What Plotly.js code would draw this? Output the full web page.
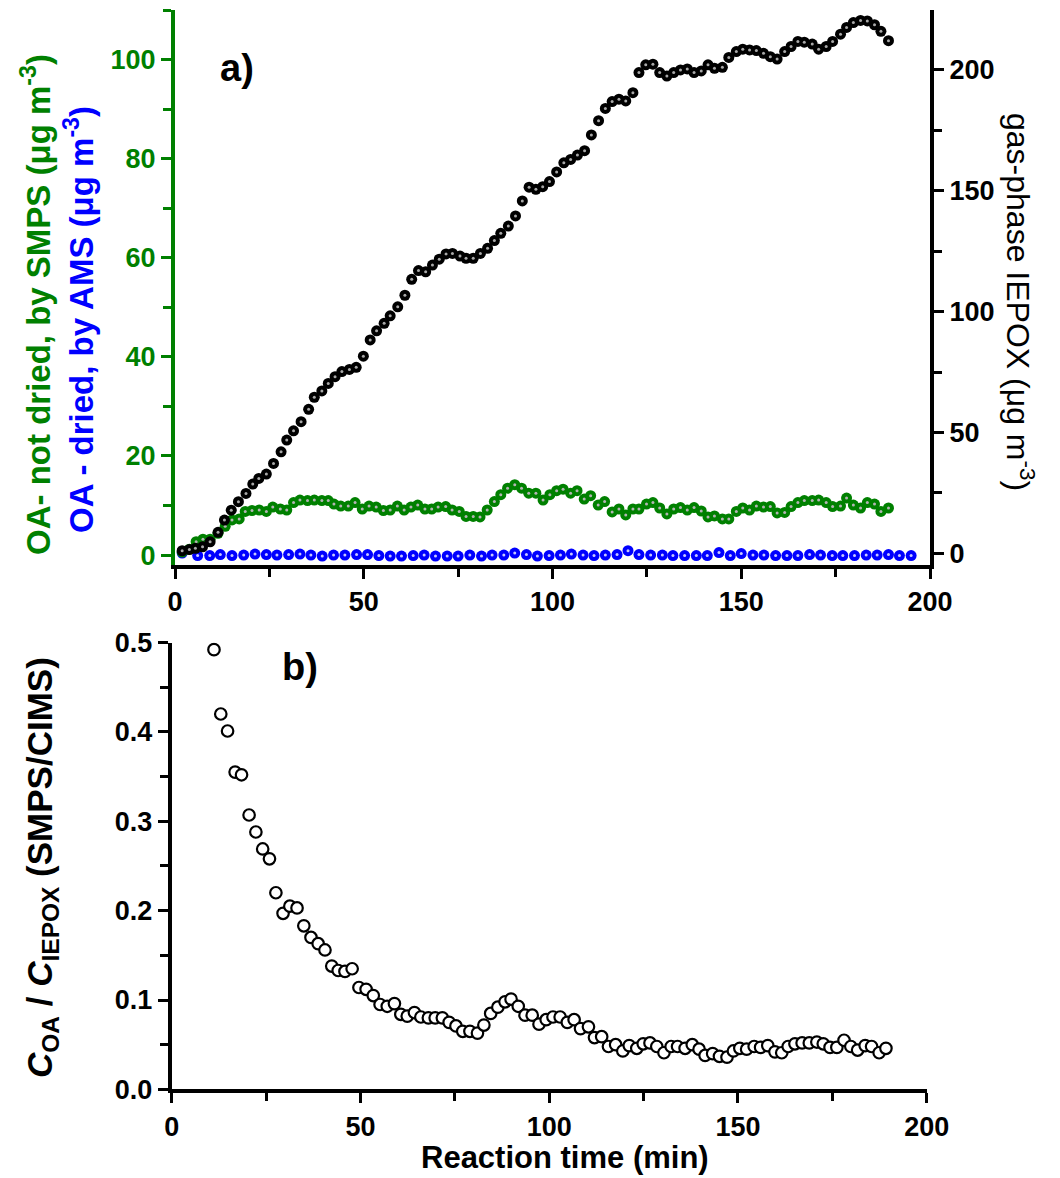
<!DOCTYPE html>
<html><head><meta charset="utf-8">
<script src="https://cdn.plot.ly/plotly-3.0.1.min.js"></script>
<style>html,body{margin:0;padding:0;background:#fff;} #chart{width:1060px;height:1178px;}</style>
</head><body><div id="chart"></div>
<script>
// ---- Panel a: gas-phase IEPOX (right axis, µg m-3)
const iepoxTime = [1.9,3.8,5.4,7.3,9.3,11.4,13.1,14.9,16.8,18.8,20.6,22.2,24.2,26.1,28.1,29.6,31.4,33.4,35.4,36.9,38.9,40.6,42.4,44.2,46.2,48,49.9,51.7,53.4,55.4,57,59,60.9,62.7,64.5,66.4,68.2,70,71.8,73.5,75.5,77.1,79,80.9,82.8,84.6,86.3,88.3,90.2,92,93.8,95.6,97.4,99.2,101.1,103,104.8,106.6,108.5,110.3,112.2,114,115.8,117.6,119.4,121.3,122.9,124.7,126.6,128.4,130.3,132.1,133.9,135.7,137.5,139.4,141.2,142.9,145,146.7,148.7,150.4,152.2,154,155.9,157.7,159.5,161.5,163.2,165,166.7,168.8,170.5,172.5,174.2,176.3,177.9,179.7,181.6,183.4,185.3,187,189];
const iepoxConc = [1.1,1.6,2.1,2.7,4.8,8.7,13.8,17.9,21.4,24.8,28.7,31,32.8,37.2,42,46.9,50.7,54.5,59.6,64.6,67.2,70.3,73.1,75.2,76.1,77,81.6,88.3,92.1,95.2,98.3,102,106.8,113.4,117,116.5,119.3,121.7,123.9,124.1,123,122.1,122.1,124.1,126.2,129.4,132.4,135.4,139.6,145.8,151.5,150.6,151.7,153.8,157.8,161.6,163,164.8,166.6,173.1,179,184.1,186.9,187.9,187.2,190.6,198.9,202.1,202.4,198.9,197.5,198.9,200,200.4,198.9,199.6,202.1,200.7,201.1,205.2,207.6,208.6,208.3,208,206.9,205.5,204.5,207.6,209.7,211.8,211.5,210.7,208.6,209.7,211.8,214.8,217.6,219.6,220.5,220.3,218.7,216,212.1];

// ---- Panel a: OA not dried, by SMPS (left axis)
const smpsTime = [1.9,3.8,5.6,7.4,9.3,11.4,13.3,15.1,17,18.6,20.4,22.3,24.2,25.9,27.9,29.6,31.4,33.1,35.1,36.9,38.9,40.6,42.1,43.9,45.9,47.7,49.6,51.4,53.3,55.2,57,58.9,60.7,62.5,64.3,66.2,68,69.7,71.7,73.4,75.3,77.1,79,80.8,82.7,84.6,86.3,88.1,90,91.8,93.7,95.6,97.5,99.3,101.1,102.8,104.8,106.5,108.4,110.1,112.1,113.8,115.8,117.6,119.4,121.3,122.9,124.9,126.6,128.4,130.3,132.1,133.9,135.7,137.5,139.4,141.2,142.9,145,146.7,148.7,150.4,152.2,154,155.9,157.7,159.5,161.5,163.2,165,166.7,168.8,170.5,172.5,174.2,176.3,177.9,179.7,181.6,183.4,185.3,187,189];
const smpsOA = [0.6,1.2,2.7,3.2,3.2,4.4,5.8,7.1,7.3,8.8,9,9.1,8.8,9.7,9.3,9.1,10.6,11.1,11,11.1,11,11,10.3,9.9,9.9,10.6,9.3,9.9,9.7,9,9.1,9.9,9.1,9.7,10.1,9.3,9.3,9.7,9.8,9.1,8.8,7.8,7.8,7.7,9.1,10.8,12.2,13.5,14.2,13.5,12.5,12.5,11.1,12.2,13,13.3,12.5,13,11.3,12,10.1,10.8,8.7,9.3,8.1,9.3,9.3,10.3,10.6,9.5,8.3,9.3,9.6,9.1,9.6,8.9,7.7,7.9,7.3,7.3,8.8,9.5,9.1,9.9,9.7,9.8,8.5,8.6,9.8,10.6,11,11,11.1,10.6,9.8,9.9,11.5,10.1,9.5,10.6,10.3,8.8,9.5];

// ---- Panel a: OA dried, by AMS (left axis)
const amsTime = [1.9,6,9.2,12,15.1,18.2,21.2,24.2,27,30.1,33.1,36,39,42,45,48.1,51,54,57,60,63.1,66,69,72.1,75,78.1,81.2,84,87.1,90,93.1,96,99.1,102.1,105,108.1,111,114,117.1,120,122.9,126,129.1,131.9,135,138.1,141,144.1,147.1,150,153.1,156,159.1,162.1,165,168.1,171,174.1,176.9,180,183.1,186,189,191.9,195];
const amsOA = [0.4,-0.1,-0.1,0.1,-0.1,0.0,0.2,0.1,0.0,0.1,0.2,0.0,-0.2,0.0,0.0,0.1,0.1,-0.1,-0.2,-0.2,-0.1,0.0,-0.2,-0.2,-0.2,0.0,-0.2,0.0,0.0,0.4,0.1,-0.2,-0.1,0.0,0.2,0.0,-0.1,0.0,0.1,0.9,0.1,0.0,0.0,-0.1,-0.1,-0.1,-0.1,0.5,-0.1,0.3,0.0,0.0,-0.1,-0.1,-0.1,0.1,0.0,-0.1,-0.1,-0.1,0.0,0.0,0.1,-0.1,-0.1];

// ---- Panel b: C_OA / C_IEPOX
const ratioTime = [11.2,13,14.8,16.8,18.5,20.5,22.3,24.1,25.9,27.6,29.5,31.3,33.2,35,36.9,38.8,40.6,42.4,44.1,45.9,47.8,49.6,51.5,53.4,55.2,57.1,59,60.7,62.4,64.3,66,68,69.8,71.7,73.5,75.3,77.1,79,81,82.7,84.5,86.4,88.3,89.9,91.8,93.6,95.5,97.3,99.2,101,102.9,104.8,106.6,108.3,110.4,112,113.9,115.7,117.6,119.5,121.2,123.2,124.9,126.7,128.5,130.4,132.3,134,136,137.9,139.7,141.3,143.3,145.1,147.1,148.8,150.5,152.3,154.3,156,157.9,159.8,161.6,163.3,165.1,167,168.9,170.9,172.6,174.4,176.2,178.1,179.9,181.7,183.7,185.4,187.4,189.2];
const ratioValue = [0.492,0.420,0.401,0.355,0.352,0.307,0.288,0.269,0.258,0.220,0.197,0.205,0.203,0.183,0.170,0.163,0.156,0.138,0.133,0.132,0.135,0.114,0.112,0.105,0.095,0.093,0.096,0.084,0.082,0.086,0.081,0.080,0.080,0.080,0.075,0.071,0.065,0.065,0.063,0.072,0.085,0.092,0.098,0.101,0.093,0.083,0.083,0.073,0.078,0.081,0.081,0.075,0.078,0.068,0.070,0.058,0.059,0.048,0.050,0.043,0.049,0.046,0.051,0.052,0.048,0.041,0.048,0.048,0.046,0.050,0.045,0.038,0.040,0.037,0.036,0.043,0.046,0.045,0.048,0.047,0.049,0.042,0.041,0.048,0.051,0.052,0.052,0.053,0.051,0.047,0.047,0.055,0.048,0.044,0.049,0.048,0.041,0.046];

// ---- Labels
const xTickVals = [0, 50, 100, 150, 200];
const leftTitleSMPS = 'OA- not dried, by SMPS (μg m<sup>-3</sup>)';
const leftTitleAMS = 'OA - dried, by AMS (μg m<sup>-3</sup>)';
const rightTitle = 'gas-phase IEPOX (μg m<sup>-3</sup>)';
const ratioTitle = '<i>C</i><sub>OA</sub> / <i>C</i><sub>IEPOX</sub> (SMPS/CIMS)';
const xTitle = 'Reaction time (min)';

const W = 1060, H = 1178;
const FAM = 'Liberation Sans, Arial, sans-serif';
const GREEN = '#008000', BLUE = '#0000ff';
const px = v => v / W, py = v => 1 - v / H;

function sphere(x, y, color, hi, yaxis, name) {
  return [
    {x: x, y: y, type: 'scatter', mode: 'markers', name: name, xaxis: 'x', yaxis: yaxis,
     marker: {size: 11, color: color, line: {width: 0}}, hoverinfo: 'x+y'},
    {x: x, y: y, type: 'scatter', mode: 'markers', name: name + ' (shade)', xaxis: 'x', yaxis: yaxis,
     marker: {size: 3, color: hi, line: {width: 0}}, hoverinfo: 'skip', showlegend: false}
  ];
}

const traces = [].concat(
  sphere(amsTime, amsOA, BLUE, '#c8c8ff', 'y', 'OA dried (AMS)'),
  sphere(smpsTime, smpsOA, GREEN, '#b4b4b4', 'y', 'OA not dried (SMPS)'),
  sphere(iepoxTime, iepoxConc, '#000000', '#a8a8a8', 'y2', 'gas-phase IEPOX'),
  [{x: ratioTime, y: ratioValue, type: 'scatter', mode: 'markers', name: 'C_OA/C_IEPOX',
    xaxis: 'x3', yaxis: 'y3',
    marker: {symbol: 'circle', size: 11.5, color: '#ffffff', line: {color: '#000000', width: 2.2}}}]
);

const tickFont = c => ({family: FAM, size: 27, color: c, weight: 700});
const topX = [px(175), px(930)];
const botX = [px(171.7), px(926.7)];
const topY = [py(565), py(10)];
const botY = [py(1089.4), py(642.5)];

const layout = {
  width: W, height: H,
  margin: {l: 0, r: 0, t: 0, b: 0},
  paper_bgcolor: '#ffffff', plot_bgcolor: 'rgba(0,0,0,0)',
  showlegend: false,
  font: {family: FAM},
  xaxis: {domain: topX, anchor: 'y', range: [0, 200], tickvals: xTickVals, ticks: 'outside',
    ticklen: 10, tickwidth: 3, tickcolor: '#000', showline: true, linewidth: 4, linecolor: '#000',
    showgrid: false, zeroline: false, tickfont: tickFont('#000'),
    minor: {tickvals: [25, 75, 125, 175], ticks: 'outside', ticklen: 8, tickwidth: 3, tickcolor: '#000'}},
  xaxis2: {overlaying: 'x', anchor: 'y', side: 'top', range: [0, 200], tickvals: xTickVals,
    ticks: 'inside', ticklen: 10, tickwidth: 3, tickcolor: '#000', showline: true, linewidth: 3.5,
    linecolor: '#000', showgrid: false, zeroline: false, showticklabels: false,
    minor: {tickvals: [25, 75, 125, 175], ticks: 'inside', ticklen: 10, tickwidth: 3, tickcolor: '#000'}},
  yaxis: {domain: topY, anchor: 'x', range: [-2, 110], tickvals: [0, 20, 40, 60, 80, 100],
    ticks: 'outside', ticklen: 10, tickwidth: 3, tickcolor: GREEN, showline: true, linewidth: 4,
    linecolor: GREEN, showgrid: false, zeroline: false, tickfont: tickFont(GREEN),
    minor: {tickvals: [10, 30, 50, 70, 90, 110], ticks: 'outside', ticklen: 8, tickwidth: 3, tickcolor: GREEN}},
  yaxis2: {overlaying: 'y', anchor: 'x', side: 'right', range: [-4.8, 224.8],
    tickvals: [0, 50, 100, 150, 200], ticks: 'outside', ticklen: 10, tickwidth: 3, tickcolor: '#000',
    showline: true, linewidth: 4, linecolor: '#000', showgrid: false, zeroline: false,
    tickfont: tickFont('#000'),
    minor: {tickvals: [25, 75, 125, 175], ticks: 'outside', ticklen: 8, tickwidth: 3, tickcolor: '#000'}},
  xaxis3: {domain: botX, anchor: 'y3', range: [0, 200], tickvals: xTickVals, ticks: 'outside',
    ticklen: 10, tickwidth: 3, tickcolor: '#000', showline: true, linewidth: 4, linecolor: '#000',
    showgrid: false, zeroline: false, tickfont: tickFont('#000'),
    minor: {tickvals: [25, 75, 125, 175], ticks: 'outside', ticklen: 8, tickwidth: 3, tickcolor: '#000'}},
  yaxis3: {domain: botY, anchor: 'x3', range: [0, 0.5], tickvals: [0, 0.1, 0.2, 0.3, 0.4, 0.5],
    tickformat: '.1f', ticks: 'outside', ticklen: 10, tickwidth: 3, tickcolor: '#000',
    showline: true, linewidth: 4, linecolor: '#000', showgrid: false, zeroline: false,
    tickfont: tickFont('#000'),
    minor: {tickvals: [0.05, 0.15, 0.25, 0.35, 0.45], ticks: 'outside', ticklen: 8, tickwidth: 3, tickcolor: '#000'}},
  annotations: [
    {text: leftTitleSMPS, xref: 'paper', yref: 'paper', x: px(36), y: py(305), textangle: -90,
     showarrow: false, xanchor: 'center', yanchor: 'middle',
     font: {family: FAM, size: 33, color: GREEN, weight: 700}},
    {text: leftTitleAMS, xref: 'paper', yref: 'paper', x: px(79), y: py(320), textangle: -90,
     showarrow: false, xanchor: 'center', yanchor: 'middle',
     font: {family: FAM, size: 33, color: BLUE, weight: 700}},
    {text: rightTitle, xref: 'paper', yref: 'paper', x: px(1020), y: py(302), textangle: 90,
     showarrow: false, xanchor: 'center', yanchor: 'middle',
     font: {family: FAM, size: 32, color: '#000'}},
    {text: 'a)', xref: 'paper', yref: 'paper', x: px(237), y: py(68), showarrow: false,
     xanchor: 'center', yanchor: 'middle', font: {family: FAM, size: 38, color: '#000', weight: 700}},
    {text: 'b)', xref: 'paper', yref: 'paper', x: px(300), y: py(667), showarrow: false,
     xanchor: 'center', yanchor: 'middle', font: {family: FAM, size: 38, color: '#000', weight: 700}},
    {text: ratioTitle, xref: 'paper', yref: 'paper', x: px(42), y: py(868), textangle: -90,
     showarrow: false, xanchor: 'center', yanchor: 'middle',
     font: {family: FAM, size: 35, color: '#000', weight: 700}},
    {text: xTitle, xref: 'paper', yref: 'paper', x: px(565), y: py(1157), showarrow: false,
     xanchor: 'center', yanchor: 'middle', font: {family: FAM, size: 31, color: '#000', weight: 700}}
  ]
};

Plotly.newPlot('chart', traces, layout, {staticPlot: true, displayModeBar: false});
</script>
</body></html>
